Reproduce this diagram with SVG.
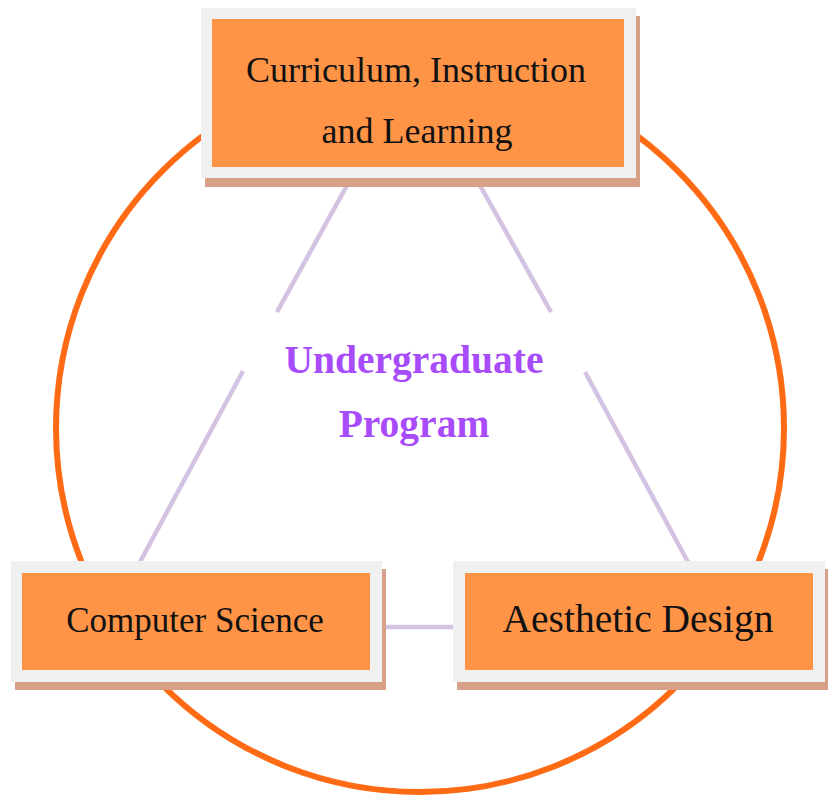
<svg xmlns="http://www.w3.org/2000/svg" width="834" height="808" viewBox="0 0 834 808">
<style>
.shadow{fill:#d9a088}
.frame{fill:#f0f0f0}
.inner{fill:#ff9447}
.lbl{font-family:"Liberation Serif","Times New Roman",serif;fill:#111;text-anchor:middle}
.conn{stroke:#d4c2e2;stroke-width:4.5;fill:none;stroke-linecap:butt}
.title{font-family:"Liberation Serif","Times New Roman",serif;font-weight:bold;fill:#a84cfb;text-anchor:middle;font-size:39.5px}
</style>
<rect width="834" height="808" fill="#ffffff"/>
<g id="ring">
<circle cx="420" cy="428" r="364" fill="none" stroke="#ff6a14" stroke-width="6"/>
</g>
<g id="connectors">
<path class="conn" d="M350 180 L277 312 M243 371 L140 562"/>
<path class="conn" d="M477 180 L551 312 M585 372 L688 562"/>
<path class="conn" d="M380 627 L455 627"/>
</g>
<g id="center-label">
<text class="title" x="414" y="373">Undergraduate</text>
<text class="title" x="414" y="437">Program</text>
</g>
<g id="node-curriculum">
<rect class="shadow" x="205" y="16" width="435" height="171"/>
<rect class="frame" x="201" y="8" width="435" height="170"/>
<rect class="inner" x="212" y="19" width="412" height="148"/>
<text class="lbl" x="416" y="82" font-size="36">Curriculum, Instruction</text>
<text class="lbl" x="417" y="143" font-size="36">and Learning</text>
</g>
<g id="node-cs">
<rect class="shadow" x="15" y="569" width="371" height="121"/>
<rect class="frame" x="11" y="561" width="371" height="121"/>
<rect class="inner" x="22" y="573" width="348" height="97"/>
<text class="lbl" x="195" y="632" font-size="35">Computer Science</text>
</g>
<g id="node-ad">
<rect class="shadow" x="457" y="569" width="371" height="121"/>
<rect class="frame" x="453" y="561" width="372" height="121"/>
<rect class="inner" x="465" y="573" width="348" height="97"/>
<text class="lbl" x="638" y="632" font-size="39.5">Aesthetic Design</text>
</g>
</svg>
